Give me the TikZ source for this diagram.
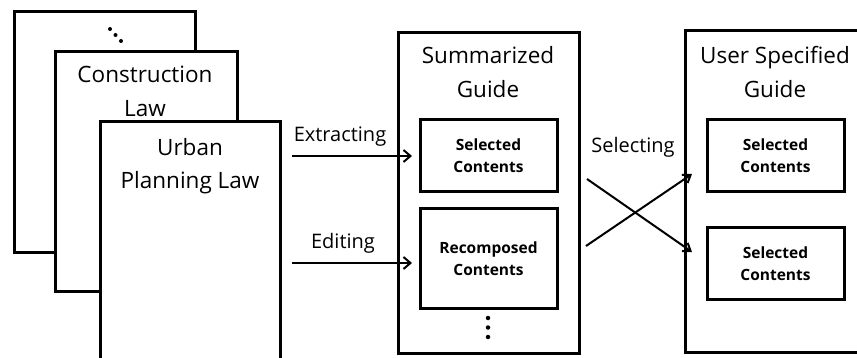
\documentclass[tikz,border=0pt]{standalone}
\usepackage{fontspec}
\setmainfont{Open Sans}
\usetikzlibrary{arrows.meta}
\begin{document}
\begin{tikzpicture}[x=1pt,y=-1pt,
  sheet/.style={draw, line width=3pt, fill=white, inner sep=0pt, anchor=north west},
  inbox/.style={draw, line width=3pt, fill=white, inner sep=0pt, minimum width=137pt, align=center,
    font=\bfseries\fontsize{15.5}{22}\selectfont},
  title/.style={align=center, inner sep=0pt, font=\fontsize{22.5}{33.5}\selectfont},
  lbl/.style={inner sep=0pt, anchor=base, font=\fontsize{20}{24}\selectfont},
  arr/.style={line width=2pt, -{Straight Barb[length=7pt,width=12pt,line width=2pt]}},
  xarr/.style={line width=2pt, -{Straight Barb[length=7pt,width=10pt,line width=2pt]}},
  dot/.style={circle, fill=black, inner sep=0pt, minimum size=4pt}]
\useasboundingbox (0,0) rectangle (857,358);
% stacked law sheets
\node[sheet, minimum width=181pt, minimum height=241pt] (back) at (13,10) {};
\node[dot] (d1) at (110,29) {};
\node[dot] (d2) at (115.5,35) {};
\node[dot] (d3) at (121,41) {};
\node[sheet, minimum width=182pt, minimum height=240pt] (mid) at (54,50) {};
\node[title] (ctitle) at (145,91.5) {Construction\\Law};
\draw[line width=3pt, fill=white] (100,360) -- (100,122) -- (280,122) -- (280,360);
\coordinate (front) at (190,122);
\node[title] (utitle) at (190,166) {Urban\\Planning Law};
% summarized guide
\node[sheet, minimum width=181pt, minimum height=321pt] (sum) at (397,31) {};
\node[title] (stitle) at (488,72) {Summarized\\Guide};
\node[inbox, minimum height=72pt] (sel1) at (488.5,156) {Selected\\Contents};
\node[inbox, minimum height=99pt] (rec) at (488.5,258.5) {Recomposed\\Contents};
\node[dot, minimum size=4.5pt] (v1) at (488,318) {};
\node[dot, minimum size=4.5pt] (v2) at (488,327.5) {};
\node[dot, minimum size=4.5pt] (v3) at (488,337) {};
% user specified guide
\draw[line width=3pt, fill=white] (860,31) -- (685,31) -- (685,352) -- (860,352);
\node[title] (utitle2) at (775,72) {User Specified\\Guide};
\node[inbox, minimum height=72pt] (us1) at (775.5,156) {Selected\\Contents};
\node[inbox, minimum height=71pt] (us2) at (775.5,263.5) {Selected\\Contents};
% arrows
\coordinate (exs) at (292,156);
\coordinate (exe) at (412,156);
\coordinate (eds) at (292,263);
\coordinate (ede) at (412,263);
\draw[arr] (exs) -- (exe);
\draw[arr] (eds) -- (ede);
\node[lbl] (extr) at (340,142) {Extracting};
\node[lbl] (edit) at (343,248) {Editing};
\coordinate (xa1) at (587,179);
\coordinate (xa2) at (692,252);
\coordinate (xb1) at (586,246);
\coordinate (xb2) at (692,174);
\draw[xarr] (xa1) -- (xa2);
\draw[xarr] (xb1) -- (xb2);
\node[lbl] (selg) at (633,153) {Selecting};
\end{tikzpicture}
\end{document}
